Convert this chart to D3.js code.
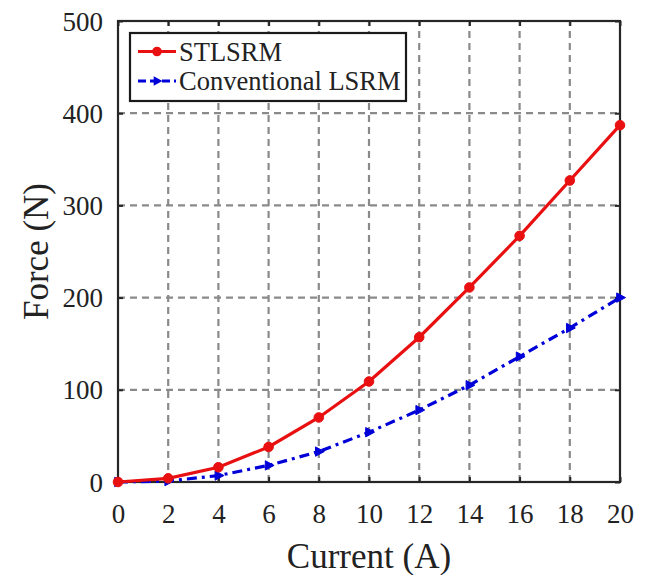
<!DOCTYPE html>
<html>
<head>
<meta charset="utf-8">
<script src="https://cdn.jsdelivr.net/npm/d3@7"></script>
<style>
  html, body { margin: 0; padding: 0; background: #fff; }
  svg { display: block; }
  text { font-family: "Liberation Serif", "Times New Roman", serif; fill: #222; }
</style>
</head>
<body>
<svg id="chart" width="648" height="575"></svg>
<script>
// Force vs. current for the two motor designs
const current = [0, 2, 4, 6, 8, 10, 12, 14, 16, 18, 20];
const stlsrmForce = [0, 4, 16, 38, 70, 109, 157, 211, 267, 327, 387];
const conventionalForce = [0, 1, 7, 18, 33, 54, 78, 105, 136, 167, 200];
const xTicks = [0, 2, 4, 6, 8, 10, 12, 14, 16, 18, 20];
const yTicks = [0, 100, 200, 300, 400, 500];
const seriesNames = ["STLSRM", "Conventional LSRM"];

const svg = d3.select("#chart");
const margin = { left: 118, right: 28, top: 21, bottom: 93 };
const W = 648, H = 575;
const serif = "'Liberation Serif', 'Times New Roman', serif";

const x = d3.scaleLinear().domain([0, 20]).range([margin.left, W - margin.right]);
const y = d3.scaleLinear().domain([0, 500]).range([H - margin.bottom, margin.top]);

const axisColor = "#262626";
const gridColor = "#8a8a8a";

// Dashed grid
const grid = svg.append("g");
grid.selectAll("line.gx").data(xTicks.slice(1, -1)).join("line")
  .attr("x1", d => x(d)).attr("x2", d => x(d))
  .attr("y1", y(0)).attr("y2", y(500))
  .attr("stroke", gridColor).attr("stroke-width", 2.2).attr("stroke-dasharray", "7,5");
grid.selectAll("line.gy").data(yTicks.slice(1, -1)).join("line")
  .attr("y1", d => y(d)).attr("y2", d => y(d))
  .attr("x1", x(0)).attr("x2", x(20))
  .attr("stroke", gridColor).attr("stroke-width", 2.2).attr("stroke-dasharray", "7,5");

// Axes with inward ticks on all four sides
const tickLen = 5;
const xBottom = svg.append("g").attr("transform", `translate(0,${y(0)})`)
  .call(d3.axisBottom(x).tickValues(xTicks).tickSizeInner(-tickLen).tickSizeOuter(0).tickPadding(22));
const xTop = svg.append("g").attr("transform", `translate(0,${y(500)})`)
  .call(d3.axisTop(x).tickValues(xTicks).tickSizeInner(-tickLen).tickSizeOuter(0).tickFormat(""));
const yLeft = svg.append("g").attr("transform", `translate(${x(0)},0)`)
  .call(d3.axisLeft(y).tickValues(yTicks).tickSizeInner(-tickLen).tickSizeOuter(0).tickPadding(15));
const yRight = svg.append("g").attr("transform", `translate(${x(20)},0)`)
  .call(d3.axisRight(y).tickValues(yTicks).tickSizeInner(-tickLen).tickSizeOuter(0).tickFormat(""));

[xBottom, xTop, yLeft, yRight].forEach(g => {
  g.attr("font-family", null);
  g.select(".domain").remove();
  g.selectAll(".tick line").attr("stroke", axisColor).attr("stroke-width", 2);
  g.selectAll(".tick text")
    .style("font-family", serif)
    .attr("font-size", 27).attr("fill", "#222");
});
xBottom.selectAll(".tick text").attr("dy", "0.72em");
yLeft.selectAll(".tick text").attr("dy", "0.34em");

// Box
svg.append("rect")
  .attr("x", x(0)).attr("y", y(500))
  .attr("width", x(20) - x(0)).attr("height", y(0) - y(500))
  .attr("fill", "none").attr("stroke", axisColor).attr("stroke-width", 2.2);

// Series
const line = d3.line().x((d, i) => x(current[i])).y(d => y(d));

const triPath = (s) => `M${-s * 0.6},${-s * 0.85}L${s},0L${-s * 0.6},${s * 0.85}Z`;

function drawSeries(vals, color, dash, marker) {
  const g = svg.append("g");
  g.append("path").datum(vals)
    .attr("d", line).attr("fill", "none")
    .attr("stroke", color).attr("stroke-width", 3.2)
    .attr("stroke-dasharray", dash);
  if (marker === "circle") {
    g.selectAll("circle").data(vals).join("circle")
      .attr("cx", (d, i) => x(current[i])).attr("cy", d => y(d))
      .attr("r", 4.8).attr("fill", color).attr("stroke", color).attr("stroke-width", 1);
  } else {
    g.selectAll("path.m").data(vals).join("path").attr("class", "m")
      .attr("transform", (d, i) => `translate(${x(current[i])},${y(d)})`)
      .attr("d", triPath(5.5)).attr("fill", color).attr("stroke", color).attr("stroke-width", 1);
  }
}

drawSeries(conventionalForce, "#0000d8", "10,5,3,5", "tri");
drawSeries(stlsrmForce, "#e81010", null, "circle");

// Axis titles
svg.append("text")
  .attr("x", (x(0) + x(20)) / 2).attr("y", 568)
  .attr("text-anchor", "middle").attr("font-size", 35)
  .style("font-family", serif)
  .text("Current (A)");
svg.append("text")
  .attr("transform", `translate(48,${(y(0) + y(500)) / 2}) rotate(-90)`)
  .attr("text-anchor", "middle").attr("font-size", 35)
  .style("font-family", serif)
  .text("Force (N)");

// Legend
const lg = svg.append("g");
lg.append("rect").attr("x", 130).attr("y", 33).attr("width", 276).attr("height", 68)
  .attr("fill", "#fff").attr("stroke", "#1a1a1a").attr("stroke-width", 2.2);
const legendRows = [
  { name: seriesNames[0], color: "#e81010", dash: null, marker: "circle", cy: 51.5 },
  { name: seriesNames[1], color: "#0000d8", dash: "8,4", marker: "tri", cy: 81 }
];
legendRows.forEach(r => {
  lg.append("line").attr("x1", 138).attr("x2", 176).attr("y1", r.cy).attr("y2", r.cy)
    .attr("stroke", r.color).attr("stroke-width", 3.2).attr("stroke-dasharray", r.dash);
  if (r.marker === "circle") {
    lg.append("circle").attr("cx", 157).attr("cy", r.cy).attr("r", 4.8).attr("fill", r.color);
  } else {
    lg.append("path").attr("transform", `translate(157,${r.cy})`).attr("d", triPath(5.5)).attr("fill", r.color);
  }
  lg.append("text").attr("x", 179).attr("y", r.cy).attr("dy", "0.35em")
    .attr("font-size", 26.5).style("font-family", serif).text(r.name);
});
</script>
</body>
</html>
